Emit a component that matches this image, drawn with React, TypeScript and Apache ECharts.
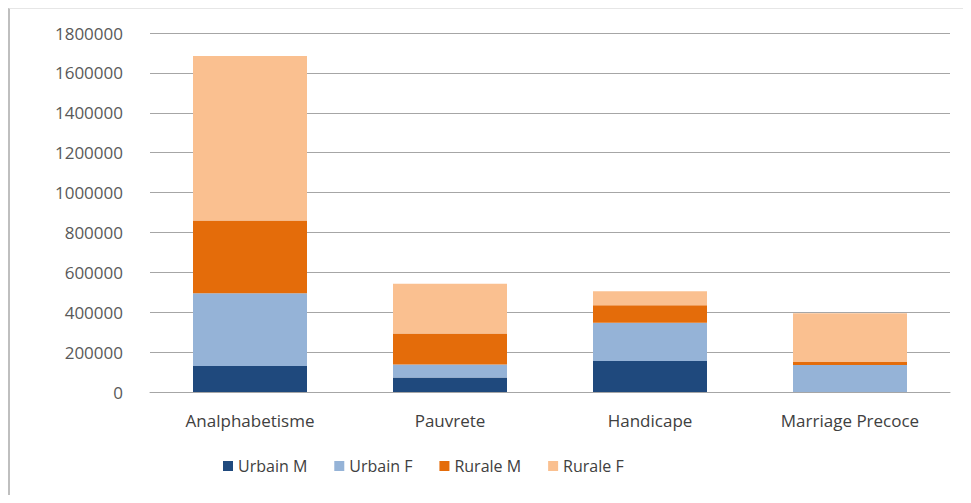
import React, { useEffect, useRef } from "react";
import * as echarts from "echarts";

const categories = ["Analphabetisme", "Pauvrete", "Handicape", "Marriage Precoce"];
const seriesNames = ["Urbain M", "Urbain F", "Rurale M", "Rurale F"];
const urbainM = [130000, 73000, 155000, 0];
const urbainF = [365000, 65000, 192000, 135000];
const ruraleM = [365000, 155000, 88000, 15000];
const ruraleF = [825000, 250000, 70000, 245000];
const colors = ["#1f497d", "#95b3d7", "#e46c0a", "#fac090"];

export default function App() {
  const ref = useRef<HTMLDivElement>(null);
  useEffect(() => {
    if (!ref.current) return;
    const chart = echarts.init(ref.current, undefined, { renderer: "svg" });
    const values = [urbainM, urbainF, ruraleM, ruraleF];
    const font = "'Open Sans', sans-serif";
    chart.setOption({
      animation: false,
      backgroundColor: "#ffffff",
      grid: { left: 140, right: 21, top: 24, bottom: 103 },
      legend: {
        data: seriesNames,
        bottom: 16,
        left: 208,
        itemWidth: 10,
        itemHeight: 10,
        itemGap: 27,
        icon: "rect",
        textStyle: { fontFamily: font, fontSize: 16, color: "#404040" },
      },
      xAxis: {
        type: "category",
        data: categories,
        axisTick: { show: false },
        axisLine: { lineStyle: { color: "#a6a6a6" } },
        axisLabel: { fontFamily: font, fontSize: 17, color: "#404040", margin: 20 },
      },
      yAxis: {
        type: "value",
        min: 0,
        max: 1800000,
        interval: 200000,
        axisLine: { show: false },
        axisTick: { show: false },
        splitLine: { lineStyle: { color: "#a6a6a6" } },
        axisLabel: {
          fontFamily: font,
          fontSize: 17,
          color: "#595959",
          margin: 27,
          formatter: (v: number) => String(v),
        },
      },
      series: seriesNames.map((name, i) => ({
        name,
        type: "bar",
        stack: "total",
        data: values[i],
        barWidth: "57%",
        itemStyle: { color: colors[i] },
      })),
    });
    return () => chart.dispose();
  }, []);
  return (
    <div
      ref={ref}
      style={{
        width: 963,
        height: 487,
        borderLeft: "2px solid #bfbfbf",
        borderTop: "1px solid #e6e6e6",
        boxSizing: "border-box",
      }}
    />
  );
}
